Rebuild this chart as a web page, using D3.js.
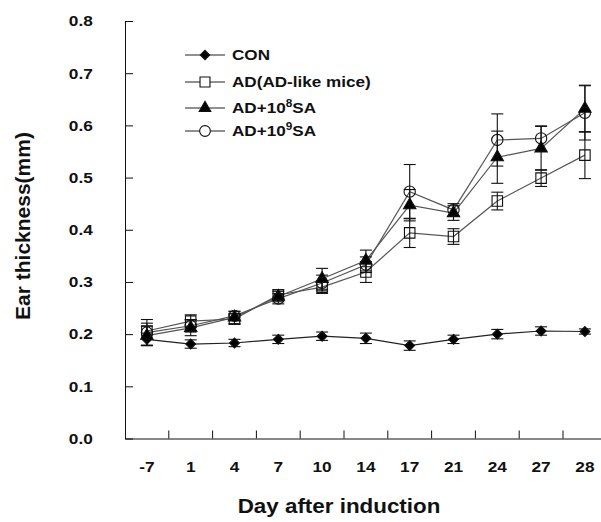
<!DOCTYPE html>
<html><head><meta charset="utf-8">
<script src="https://cdn.jsdelivr.net/npm/d3@7"></script>
<style>
html,body{margin:0;padding:0;background:#fff;}
text{font-family:"Liberation Sans",Arial,sans-serif;font-weight:bold;fill:#111;}
</style></head>
<body>
<svg id="chart" width="601" height="522"></svg>
<script>
const days = ["-7","1","4","7","10","14","17","21","24","27","28"];
const yTicks = [0,0.1,0.2,0.3,0.4,0.5,0.6,0.7,0.8];
const con    = [0.190,0.181,0.183,0.190,0.196,0.192,0.178,0.190,0.200,0.206,0.205];
const conErr = [0.012,0.008,0.007,0.008,0.008,0.010,0.009,0.008,0.009,0.008,0.005];
const ad     = [0.206,0.225,0.229,0.275,0.290,0.319,0.394,0.387,0.455,0.499,0.543];
const adErr  = [0.015,0.012,0.010,0.010,0.012,0.020,0.028,0.015,0.017,0.016,0.045];
const sa8    = [0.197,0.212,0.232,0.272,0.306,0.341,0.447,0.432,0.539,0.556,0.632];
const sa8Err = [0.018,0.015,0.012,0.010,0.020,0.020,0.030,0.014,0.050,0.042,0.045];
const sa9    = [0.203,0.216,0.235,0.268,0.298,0.333,0.473,0.438,0.572,0.575,0.624];
const sa9Err = [0.025,0.012,0.008,0.010,0.015,0.015,0.052,0.012,0.050,0.024,0.052];
const seriesNames = ["CON","AD(AD-like mice)","AD+10|8|SA","AD+10|9|SA"];

const svg = d3.select("#chart");
const x = d3.scaleBand().domain(days).range([125, 125 + 11*43.8]);
const y = d3.scaleLinear().domain([0,0.8]).range([438.5, 21]);
const cx = d => x(d) + x.bandwidth()/2;

const series = [
  {vals:con, err:conErr, sym:d3.symbolDiamond2, size:62, fill:"#000"},
  {vals:ad,  err:adErr,  sym:d3.symbolSquare,   size:110, fill:"none"},
  {vals:sa8, err:sa8Err, sym:d3.symbolTriangle, size:66, fill:"#000"},
  {vals:sa9, err:sa9Err, sym:d3.symbolCircle,   size:100, fill:"none"}
];

// Y axis
const yAxis = svg.append("g").attr("transform","translate(125,0)")
  .call(d3.axisLeft(y).tickValues(yTicks).tickFormat(d3.format(".1f"))
        .tickSizeInner(-8).tickSizeOuter(0).tickPadding(28));
yAxis.select(".domain").attr("stroke","#111");
yAxis.selectAll("line").attr("stroke","#111");
yAxis.selectAll("text").attr("font-size",15).attr("font-family",null)
  .attr("transform","scale(1.15,1)");

// X axis
const xAxis = svg.append("g").attr("transform","translate(0,438.5)")
  .call(d3.axisBottom(x).tickSize(0).tickPadding(23));
xAxis.select(".domain").attr("stroke","#111");
xAxis.selectAll(".tick").attr("transform", d => `translate(${cx(d)},0)`);
xAxis.selectAll(".tick text").attr("font-size",15).attr("font-family",null)
  .attr("transform","scale(1.15,1)");
// boundary ticks (inward)
svg.append("g").selectAll("line").data(days.slice(1)).join("line")
  .attr("x1", d => x(d)).attr("x2", d => x(d))
  .attr("y1", 438.5).attr("y2", 430.5).attr("stroke","#111");

// Series
const plot = svg.append("g");
series.forEach((s, si) => {
  const line = d3.line().x((v,i) => cx(days[i])).y(v => y(v));
  plot.append("path").attr("d", line(s.vals)).attr("fill","none")
    .attr("stroke", si===0 ? "#222" : "#555").attr("stroke-width",1.2);
});
series.forEach((s) => {
  const g = plot.append("g");
  s.vals.forEach((v,i) => {
    const px = cx(days[i]);
    const e = s.err[i];
    g.append("line").attr("x1",px).attr("x2",px).attr("y1",y(v+e)).attr("y2",y(v-e)).attr("stroke","#111").attr("stroke-width",1.1);
    [v+e, v-e].forEach(w => g.append("line").attr("x1",px-6).attr("x2",px+6).attr("y1",y(w)).attr("y2",y(w)).attr("stroke","#111").attr("stroke-width",1.1));
  });
});
series.forEach((s) => {
  plot.append("g").selectAll("path").data(s.vals).join("path")
    .attr("transform",(v,i) => `translate(${cx(days[i])},${y(v)})`)
    .attr("d", d3.symbol().type(s.sym).size(s.size))
    .attr("fill", s.fill).attr("stroke","#111").attr("stroke-width",1.1);
});

// Legend
const legY = [55, 82, 108, 131];
const leg = svg.append("g");
series.forEach((s, i) => {
  const yy = legY[i];
  leg.append("line").attr("x1",185).attr("x2",225).attr("y1",yy).attr("y2",yy).attr("stroke","#222").attr("stroke-width",1.2);
  leg.append("path").attr("transform",`translate(205,${yy})`)
    .attr("d", d3.symbol().type(s.sym).size(s.size*0.9))
    .attr("fill", s.fill === "none" ? "#fff" : s.fill).attr("stroke","#111").attr("stroke-width",1.1);
  const parts = seriesNames[i].split("|");
  const t = leg.append("text").attr("transform",`translate(232,${yy+5}) scale(1.18,1)`).attr("font-size",14.5);
  t.append("tspan").text(parts[0]);
  if (parts.length > 1) {
    t.append("tspan").attr("font-size",10).attr("dy",-6).text(parts[1]);
    t.append("tspan").attr("dy",6).text(parts[2]);
  }
});

// Axis titles
svg.append("text").attr("transform","translate(339,513) scale(1.12,1)")
  .attr("text-anchor","middle").attr("font-size",20).text("Day after induction");
svg.append("text").attr("transform","translate(30,226) rotate(-90)")
  .attr("text-anchor","middle").attr("font-size",21).text("Ear thickness(mm)");
</script>
</body></html>
